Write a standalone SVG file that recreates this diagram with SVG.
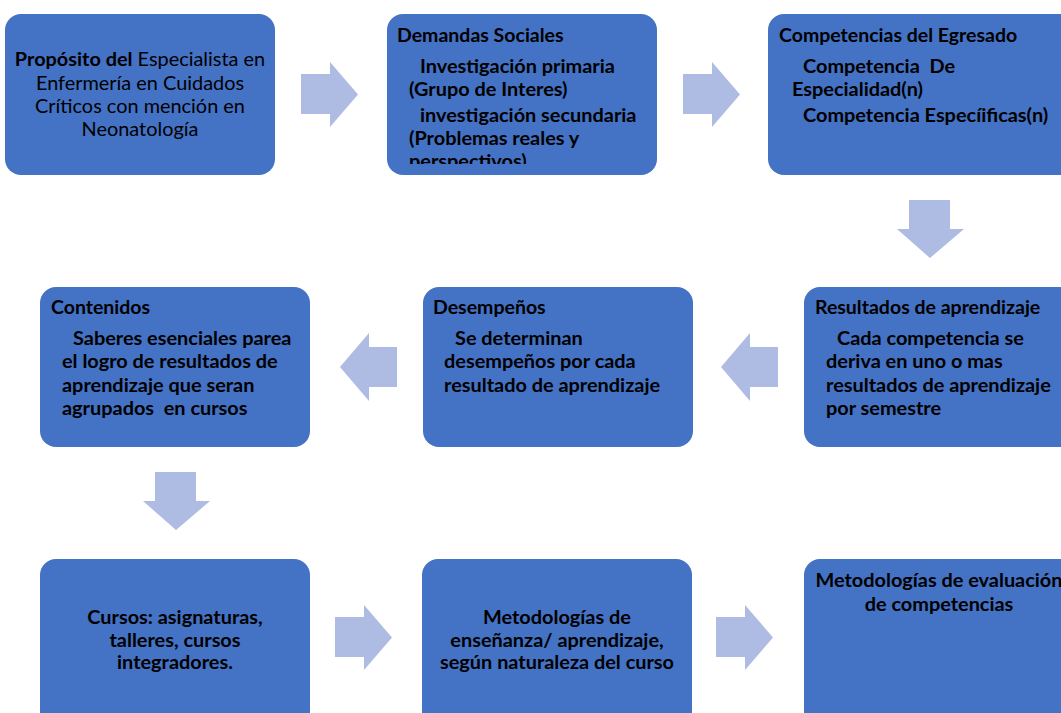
<svg xmlns="http://www.w3.org/2000/svg" width="1061" height="713" viewBox="0 0 1061 713">
<style>
.box{fill:#4472C4;}
.arr{fill:#AEBBE2;}
text{font-family:Lato,"Liberation Sans",sans-serif;font-size:19.9px;fill:#000;}
.b{font-weight:bold;}
.t{font-weight:bold;font-size:19.5px;}
.c{text-anchor:middle;}
.pre{white-space:pre;}
</style>
<defs>
<clipPath id="clip2"><rect x="387" y="14" width="270" height="150"/></clipPath>
<path id="ar" d="M0,12 H29 V0 L57,32.5 L29,65 V52 H0 Z"/>
</defs>
<rect width="1061" height="713" fill="#fff"/>
<g id="connectors">
<use href="#ar" class="arr" x="301" y="62"/>
<use href="#ar" class="arr" x="683" y="62"/>
<path class="arr" d="M909,200 H950 V229 H964 L930,258 L897,229 H909 Z"/>
<path class="arr" d="M778,347 H750 V333 L721,367 L750,401 V387 H778 Z"/>
<path class="arr" d="M397,347 H369 V333 L340,367 L369,401 V387 H397 Z"/>
<path class="arr" d="M155,472 H196 V501 H210 L176,530 L143,501 H155 Z"/>
<use href="#ar" class="arr" x="335" y="605"/>
<use href="#ar" class="arr" x="716" y="605"/>
</g>
<g id="n1">
<rect class="box" x="5" y="14" width="270" height="161" rx="16"/>
<text class="c" x="140" y="66"><tspan class="b">Propósito del</tspan> Especialista en</text>
<text class="c" x="140" y="89.5">Enfermería en Cuidados</text>
<text class="c" x="140" y="113">Críticos con mención en</text>
<text class="c" x="140" y="136">Neonatología</text>
</g>
<g id="n2">
<rect class="box" x="387" y="14" width="270" height="161" rx="16"/>
<g clip-path="url(#clip2)">
<text class="t" x="397" y="42">Demandas Sociales</text>
<text class="b" x="420" y="73">Investigación primaria</text>
<text class="b" x="409" y="96">(Grupo de Interes)</text>
<text class="b" x="420" y="122">investigación secundaria</text>
<text class="b" x="409" y="145">(Problemas reales y</text>
<text class="b" x="409" y="168">perspectivos)</text>
</g>
</g>
<g id="n3">
<rect class="box" x="768" y="14" width="310" height="161" rx="16"/>
<text class="t" x="779" y="42">Competencias del Egresado</text>
<text class="b pre" x="803" y="73">Competencia  De</text>
<text class="b" x="792" y="96">Especialidad(n)</text>
<text class="b" x="803" y="122">Competencia Especíificas(n)</text>
</g>
<g id="n4">
<rect class="box" x="804" y="287" width="280" height="160" rx="16"/>
<text class="t" x="815" y="314">Resultados de aprendizaje</text>
<text class="b" x="837" y="345">Cada competencia se</text>
<text class="b" x="826" y="368">deriva en uno o mas</text>
<text class="b" x="826" y="392">resultados de aprendizaje</text>
<text class="b" x="826" y="415">por semestre</text>
</g>
<g id="n5">
<rect class="box" x="423" y="287" width="270" height="160" rx="16"/>
<text class="t" x="433" y="314">Desempeños</text>
<text class="b" x="455" y="345">Se determinan</text>
<text class="b" x="444" y="368">desempeños por cada</text>
<text class="b" x="444" y="392">resultado de aprendizaje</text>
</g>
<g id="n6">
<rect class="box" x="40" y="287" width="270" height="160" rx="16"/>
<text class="t" x="51" y="314">Contenidos</text>
<text class="b" x="73" y="345">Saberes esenciales parea</text>
<text class="b" x="62" y="368">el logro de resultados de</text>
<text class="b" x="62" y="392">aprendizaje que seran</text>
<text class="b pre" x="62" y="415">agrupados  en cursos</text>
</g>
<g id="n7">
<rect class="box" x="40" y="559" width="270" height="170" rx="16"/>
<text class="b c" x="175" y="624">Cursos: asignaturas,</text>
<text class="b c" x="175" y="647">talleres, cursos</text>
<text class="b c" x="175" y="669">integradores.</text>
</g>
<g id="n8">
<rect class="box" x="422" y="559" width="270" height="170" rx="16"/>
<text class="b c" x="557" y="624">Metodologías de</text>
<text class="b c" x="557" y="647">enseñanza/ aprendizaje,</text>
<text class="b c" x="557" y="669">según naturaleza del curso</text>
</g>
<g id="n9">
<rect class="box" x="804" y="559" width="280" height="170" rx="16"/>
<text class="b c" x="939" y="587">Metodologías de evaluación</text>
<text class="b c" x="939" y="611">de competencias</text>
</g>
</svg>
